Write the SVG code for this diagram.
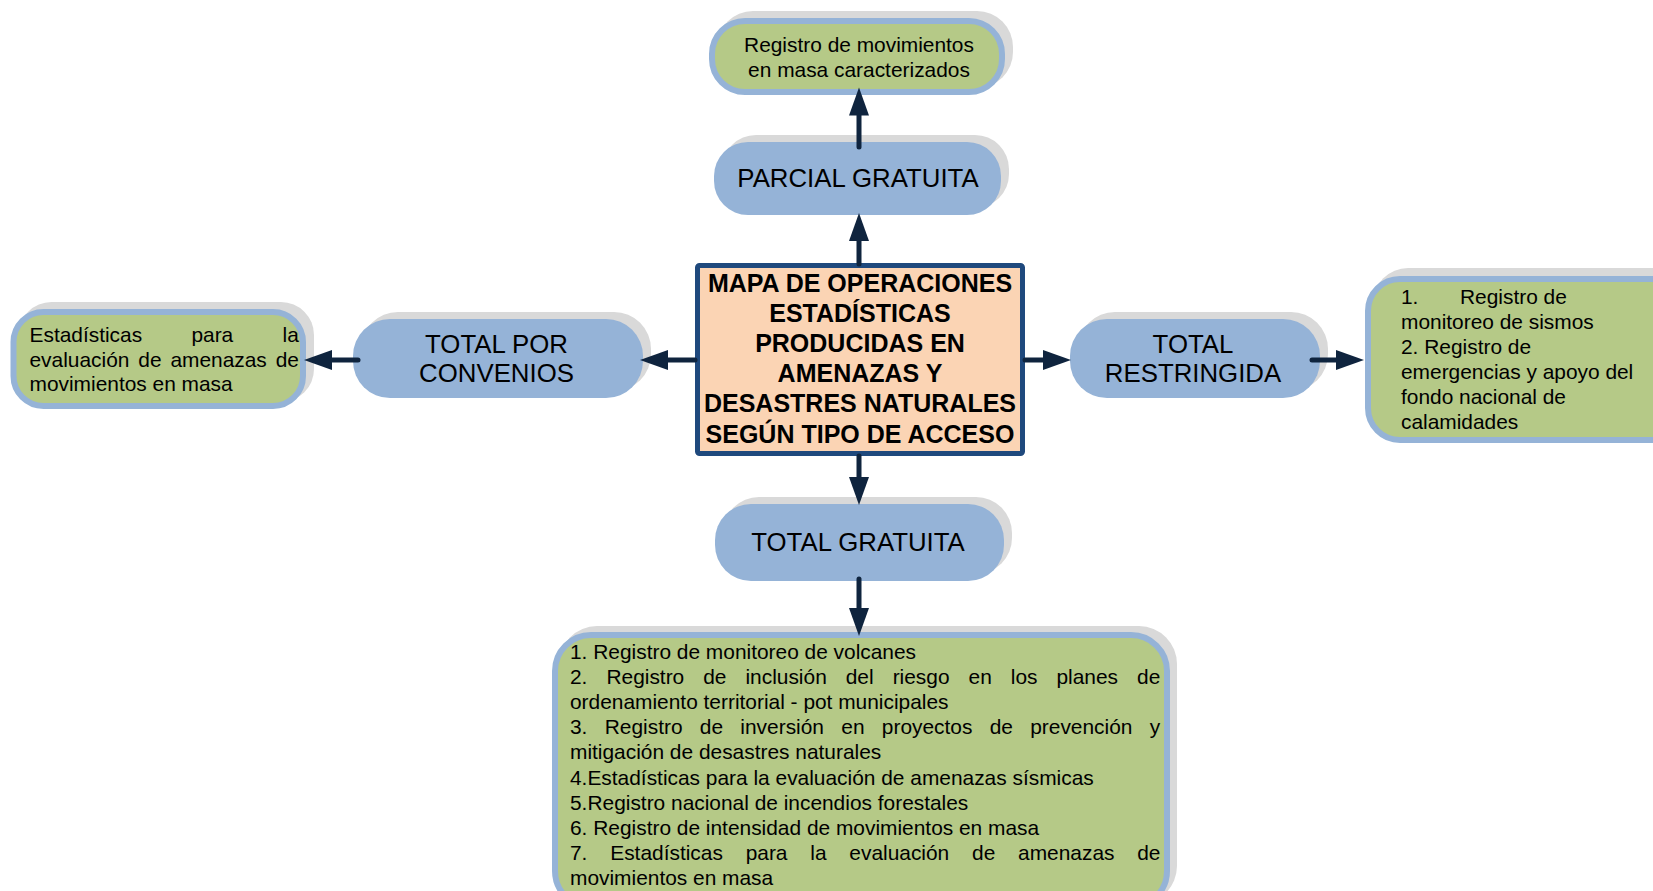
<svg xmlns="http://www.w3.org/2000/svg" width="1653" height="891" viewBox="0 0 1653 891">
<style>
.sh{fill:#d9d9d9}
.pill{fill:#95b3d7}
.gb{fill:#b5c987;stroke:#95b3d7;stroke-width:6}
.t{font-family:"Liberation Sans",Arial,sans-serif;fill:#000}
.big{font-size:25.8px}
.sm{font-size:20.9px}
.c{text-anchor:middle}
.ttl{font-size:25px;font-weight:bold}
.con{stroke:#0f243e;stroke-width:5;fill:none;stroke-linecap:round}
</style>
<defs>
<marker id="ah" markerUnits="userSpaceOnUse" markerWidth="29" markerHeight="21" refX="3" refY="10" orient="auto">
<path d="M0,0 L28,10 L0,20 z" fill="#0f243e"/>
</marker>
</defs>
<rect width="1653" height="891" fill="#fff"/>

<g id="top-green">
<rect class="sh" x="717" y="11" width="296" height="77" rx="36"/>
<rect class="gb" x="712" y="21" width="290" height="71" rx="33"/>
<text class="t sm c" x="859" y="52">Registro de movimientos</text>
<text class="t sm c" x="859" y="77">en masa caracterizados</text>
</g>

<g id="parcial">
<rect class="sh" x="722" y="135" width="287" height="73" rx="34"/>
<rect class="pill" x="714" y="142" width="287" height="73" rx="34"/>
<text class="t big c" x="858" y="187">PARCIAL GRATUITA</text>
</g>

<g id="center">
<rect x="697.5" y="265.5" width="325" height="188" rx="2" fill="#fbd4b4" stroke="#1f497d" stroke-width="5"/>
<text class="t ttl c" x="860" y="291.5">MAPA DE OPERACIONES</text>
<text class="t ttl c" x="860" y="321.7">ESTADÍSTICAS</text>
<text class="t ttl c" x="860" y="351.9">PRODUCIDAS EN</text>
<text class="t ttl c" x="860" y="382.1">AMENAZAS Y</text>
<text class="t ttl c" x="860" y="412.3">DESASTRES NATURALES</text>
<text class="t ttl c" x="860" y="442.5">SEGÚN TIPO DE ACCESO</text>
</g>

<g id="convenios">
<rect class="sh" x="361" y="312" width="290" height="79" rx="37"/>
<rect class="pill" x="353" y="319" width="290" height="79" rx="37"/>
<text class="t big c" x="496.5" y="352.5">TOTAL POR</text>
<text class="t big c" x="496.5" y="382">CONVENIOS</text>
</g>

<g id="left-green">
<rect class="sh" x="18.5" y="302" width="295.5" height="100" rx="33"/>
<rect class="gb" x="13.5" y="312" width="289.5" height="94" rx="30"/>
<text class="t sm" x="29.5" y="341.7" word-spacing="43.5">Estadísticas para la</text>
<text class="t sm" x="29.5" y="366.5" word-spacing="3.1">evaluación de amenazas de</text>
<text class="t sm" x="29.5" y="391.3">movimientos en masa</text>
</g>

<g id="restringida">
<rect class="sh" x="1078" y="312" width="250" height="79" rx="37"/>
<rect class="pill" x="1070" y="319" width="250" height="79" rx="37"/>
<text class="t big c" x="1193" y="352.5">TOTAL</text>
<text class="t big c" x="1193" y="382">RESTRINGIDA</text>
</g>

<g id="right-green">
<rect class="sh" x="1373" y="268" width="325" height="167" rx="35"/>
<rect class="gb" x="1368" y="279" width="320" height="161" rx="32"/>
<text class="t sm" x="1401" y="303.6">1.</text>
<text class="t sm" x="1460" y="303.6">Registro de</text>
<text class="t sm" x="1401" y="328.7">monitoreo de sismos</text>
<text class="t sm" x="1401" y="353.8">2. Registro de</text>
<text class="t sm" x="1401" y="378.9">emergencias y apoyo del</text>
<text class="t sm" x="1401" y="404">fondo nacional de</text>
<text class="t sm" x="1401" y="429.1">calamidades</text>
</g>

<g id="gratuita">
<rect class="sh" x="723" y="497" width="289" height="77" rx="36"/>
<rect class="pill" x="715" y="504" width="289" height="77" rx="36"/>
<text class="t big c" x="858" y="551">TOTAL GRATUITA</text>
</g>

<g id="bottom-green">
<rect class="sh" x="559" y="626" width="618" height="278" rx="38"/>
<rect class="gb" x="555" y="635" width="612" height="272" rx="36"/>
<text class="t sm" x="570" y="659">1. Registro de monitoreo de volcanes</text>
<text class="t sm" x="570" y="684.1" word-spacing="13.2">2. Registro de inclusión del riesgo en los planes de</text>
<text class="t sm" x="570" y="709.2">ordenamiento territorial - pot municipales</text>
<text class="t sm" x="570" y="734.3" word-spacing="11.5">3. Registro de inversión en proyectos de prevención y</text>
<text class="t sm" x="570" y="759.4">mitigación de desastres naturales</text>
<text class="t sm" x="570" y="784.5">4.Estadísticas para la evaluación de amenazas sísmicas</text>
<text class="t sm" x="570" y="809.6">5.Registro nacional de incendios forestales</text>
<text class="t sm" x="570" y="834.7">6. Registro de intensidad de movimientos en masa</text>
<text class="t sm" x="570" y="859.8" word-spacing="17.0">7. Estadísticas para la evaluación de amenazas de</text>
<text class="t sm" x="570" y="884.9">movimientos en masa</text>
</g>

<g id="connectors">
<line class="con" x1="859" y1="264" x2="859" y2="238" marker-end="url(#ah)"/>
<line class="con" x1="859" y1="147" x2="859" y2="112.5" marker-end="url(#ah)"/>
<line class="con" x1="695" y1="360" x2="665" y2="360" marker-end="url(#ah)"/>
<line class="con" x1="358" y1="360" x2="329" y2="360" marker-end="url(#ah)"/>
<line class="con" x1="1025" y1="360" x2="1046" y2="360" marker-end="url(#ah)"/>
<line class="con" x1="1312" y1="360" x2="1339" y2="360" marker-end="url(#ah)"/>
<line class="con" x1="859" y1="456" x2="859" y2="480" marker-end="url(#ah)"/>
<line class="con" x1="859" y1="579" x2="859" y2="611" marker-end="url(#ah)"/>
</g>
</svg>
